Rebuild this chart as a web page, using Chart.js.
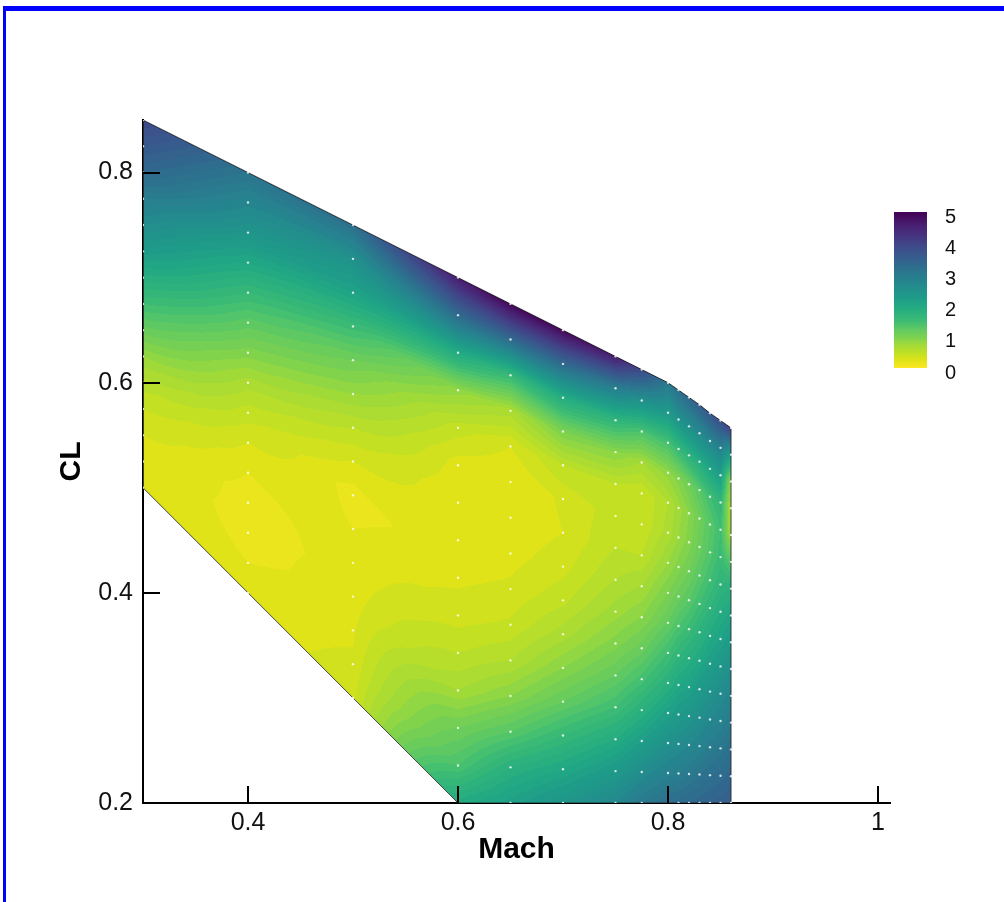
<!DOCTYPE html>
<html><head><meta charset="utf-8">
<script src="https://cdn.jsdelivr.net/npm/chart.js@4.4.1/dist/chart.umd.min.js"></script>
<style>
html,body{margin:0;padding:0;background:#fff;width:1004px;height:902px;overflow:hidden;}
#frame{position:absolute;left:3px;top:6px;width:1100px;height:1000px;border-top:5px solid #0000ff;border-left:3px solid #0000ff;box-sizing:border-box;pointer-events:none;}
canvas{position:absolute;left:0;top:0;}
</style></head><body>
<canvas id="c" width="1004" height="902"></canvas>
<div id="frame"></div>
<script>
// ---- data (structured 15 x 15 grid, columns of Mach, rows evenly spaced between low/high CL) ----
const machCols = [0.3, 0.4, 0.5, 0.6, 0.65, 0.7, 0.75, 0.775, 0.8, 0.81, 0.82, 0.83, 0.84, 0.85, 0.86];
const clLow    = [0.5, 0.4, 0.3, 0.2, 0.2, 0.2, 0.2, 0.2, 0.2, 0.2, 0.2, 0.2, 0.2, 0.2, 0.2];
const clHigh   = [0.85, 0.8, 0.75, 0.7, 0.675, 0.65, 0.625, 0.6125, 0.6, 0.593, 0.586, 0.579, 0.571, 0.564, 0.557];
const rowFrac  = [0, 0.0714, 0.1429, 0.2143, 0.2857, 0.3571, 0.4286, 0.5, 0.5714, 0.6429, 0.7143, 0.7857, 0.8571, 0.9286, 1];
// values per column, bottom (low CL) to top (high CL)
const v_M0300 = [0.22,0.25,0.3,0.4,0.55,0.8,1.15,1.5,1.85,2.25,2.6,2.9,3.3,3.6,3.9];
const v_M0400 = [0.22,0.2,0.15,0.14,0.2,0.3,0.45,0.65,0.95,1.25,1.6,2.0,2.4,2.75,3.1];
const v_M0500 = [0.36,0.32,0.28,0.25,0.22,0.2,0.15,0.3,0.5,0.8,1.1,1.55,2.1,2.5,3.2];
const v_M0600 = [1.95,1.4,1.1,0.7,0.5,0.35,0.28,0.22,0.2,0.25,0.45,0.85,1.95,3.3,4.6];
const v_M0650 = [2.15,1.8,1.3,0.9,0.6,0.42,0.32,0.26,0.22,0.2,0.3,0.65,1.6,3.3,4.95];
const v_M0700 = [2.4,2.0,1.6,1.2,0.9,0.65,0.47,0.36,0.3,0.32,0.5,1.0,1.9,3.3,4.9];
const v_M0750 = [2.7,2.3,1.9,1.5,1.2,0.95,0.75,0.6,0.5,0.45,0.5,0.9,1.7,2.9,4.6];
const v_M0775 = [3.0,2.6,2.2,1.8,1.45,1.15,0.9,0.7,0.5,0.4,0.4,0.7,1.4,2.5,3.9];
const v_M0800 = [3.2,2.85,2.5,2.15,1.8,1.5,1.2,1.0,0.8,0.65,0.6,0.85,1.45,2.3,3.0];
const v_M0810 = [3.25,2.9,2.6,2.3,2.0,1.7,1.4,1.15,0.95,0.8,0.75,0.95,1.6,2.45,3.2];
const v_M0820 = [3.3,3.0,2.7,2.4,2.1,1.85,1.55,1.3,1.1,0.95,0.9,1.1,1.75,2.55,3.35];
const v_M0830 = [3.35,3.1,2.8,2.55,2.3,2.0,1.75,1.5,1.3,1.15,1.1,1.3,1.9,2.65,3.5];
const v_M0840 = [3.4,3.2,2.95,2.7,2.45,2.2,1.95,1.7,1.5,1.35,1.3,1.5,2.05,2.75,3.65];
const v_M0850 = [3.45,3.25,3.05,2.8,2.6,2.35,2.1,1.9,1.7,1.55,1.5,1.65,2.2,2.85,3.8];
const v_M0860 = [3.5,3.35,3.2,3.0,2.8,2.55,2.3,2.05,1.8,1.3,0.7,0.6,0.8,2.2,4.1];
const fieldValues = [v_M0300,v_M0400,v_M0500,v_M0600,v_M0650,v_M0700,v_M0750,v_M0775,v_M0800,v_M0810,v_M0820,v_M0830,v_M0840,v_M0850,v_M0860];

const xTickValues = [0.4, 0.6, 0.8, 1.0];
const xTickLabels = ['0.4', '0.6', '0.8', '1'];
const yTickValues = [0.2, 0.4, 0.6, 0.8];
const yTickLabels = ['0.2', '0.4', '0.6', '0.8'];
const cbarTicks = [0, 1, 2, 3, 4, 5];
const cbarMin = 0, cbarMax = 5;

// viridis lookup (t = 0..1 step 0.05)
const VIR = [[68,1,84],[71,19,101],[72,36,117],[70,51,127],[65,68,135],[59,82,139],[53,95,141],[46,109,142],[41,122,142],[37,133,142],[33,145,140],[30,156,137],[34,168,132],[45,178,125],[63,188,115],[94,201,98],[122,209,81],[160,218,57],[189,223,38],[223,227,24],[253,231,37]];
function viridis(t){
  t = Math.max(0, Math.min(1, t));
  const f = t * (VIR.length - 1); const i = Math.min(VIR.length - 2, Math.floor(f)); const r = f - i;
  const a = VIR[i], b = VIR[i+1];
  return [a[0]+(b[0]-a[0])*r, a[1]+(b[1]-a[1])*r, a[2]+(b[2]-a[2])*r];
}
function colorFor(v){ return viridis(1 - (v - cbarMin) / (cbarMax - cbarMin)); }

// grid node points (sample locations)
const gridPoints = [];
machCols.forEach((m, i) => rowFrac.forEach(f => gridPoints.push({x: m, y: clLow[i] + f * (clHigh[i] - clLow[i])})));
// zone boundary
const boundaryPts = [];
for (let i = 0; i < machCols.length; i++) boundaryPts.push({x: machCols[i], y: clLow[i]});
for (let i = machCols.length - 1; i >= 0; i--) boundaryPts.push({x: machCols[i], y: clHigh[i]});
boundaryPts.push({x: machCols[0], y: clLow[0]});

function sampleField(M, CL){
  const n = machCols.length;
  if (M < machCols[0] || M > machCols[n-1]) return null;
  let i = 0; while (i < n - 2 && M > machCols[i+1]) i++;
  const s = (M - machCols[i]) / (machCols[i+1] - machCols[i]);
  const lo = clLow[i] + (clLow[i+1] - clLow[i]) * s;
  const hi = clHigh[i] + (clHigh[i+1] - clHigh[i]) * s;
  const t = (CL - lo) / (hi - lo);
  if (t < 0 || t > 1) return null;
  let j = 0; while (j < rowFrac.length - 2 && t > rowFrac[j+1]) j++;
  const r = (t - rowFrac[j]) / (rowFrac[j+1] - rowFrac[j]);
  const A = fieldValues[i], B = fieldValues[i+1];
  const a = A[j] + (A[j+1] - A[j]) * r;
  const b = B[j] + (B[j+1] - B[j]) * r;
  return a + (b - a) * s;
}

const fieldPlugin = {
  id: 'field',
  beforeDatasetsDraw(chart){
    const xs = chart.scales.x, ys = chart.scales.y, ctx = chart.ctx;
    const x0 = Math.floor(xs.getPixelForValue(Math.min(...machCols)));
    const x1 = Math.ceil(xs.getPixelForValue(Math.max(...machCols)));
    const y0 = Math.floor(ys.getPixelForValue(Math.max(...clHigh)));
    const y1 = Math.ceil(ys.getPixelForValue(Math.min(...clLow)));
    const w = x1 - x0 + 1, h = y1 - y0 + 1;
    const off = document.createElement('canvas'); off.width = w; off.height = h;
    const octx = off.getContext('2d'); const img = octx.createImageData(w, h);
    const step = 0.1;
    for (let py = 0; py < h; py++){
      const CL = ys.getValueForPixel(y0 + py + 0.5);
      for (let px = 0; px < w; px++){
        const M = xs.getValueForPixel(x0 + px + 0.5);
        const v = sampleField(M, CL);
        if (v === null) continue;
        const q = (Math.floor(v / step) + 0.5) * step;
        const c = colorFor(q);
        const k = (py * w + px) * 4;
        img.data[k] = c[0]; img.data[k+1] = c[1]; img.data[k+2] = c[2]; img.data[k+3] = 255;
      }
    }
    octx.putImageData(img, 0, 0);
    ctx.save();
    ctx.drawImage(off, x0, y0);
    ctx.restore();
  }
};

const tickPlugin = {
  id: 'innerTicks',
  afterDraw(chart){
    const xs = chart.scales.x, ys = chart.scales.y, a = chart.chartArea, ctx = chart.ctx;
    ctx.save(); ctx.strokeStyle = '#000'; ctx.lineWidth = 2;
    xs.ticks.forEach(t => { const p = Math.round(xs.getPixelForValue(t.value)); ctx.beginPath(); ctx.moveTo(p, a.bottom); ctx.lineTo(p, a.bottom - 17); ctx.stroke(); });
    ys.ticks.forEach(t => { const p = Math.round(ys.getPixelForValue(t.value)); ctx.beginPath(); ctx.moveTo(a.left, p); ctx.lineTo(a.left + 17, p); ctx.stroke(); });
    ctx.restore();
  }
};

const colorbarPlugin = {
  id: 'colorbar',
  afterDraw(chart){
    const ctx = chart.ctx;
    const bx = 894, by = 212, bw = 33, bh = 156;
    ctx.save();
    for (let i = 0; i < bh; i++){
      const v = cbarMax - (i + 0.5) / bh * (cbarMax - cbarMin);
      const c = colorFor(v);
      ctx.fillStyle = `rgb(${Math.round(c[0])},${Math.round(c[1])},${Math.round(c[2])})`;
      ctx.fillRect(bx, by + i, bw, 1);
    }
    ctx.fillStyle = '#111';
    ctx.font = '20px "Liberation Sans", Arial, sans-serif';
    ctx.textAlign = 'left'; ctx.textBaseline = 'middle';
    cbarTicks.forEach(v => {
      const y = by + (cbarMax - v) / (cbarMax - cbarMin) * bh + 5;
      ctx.fillText(String(v), bx + 51, y);
    });
    ctx.restore();
  }
};

const ctx = document.getElementById('c').getContext('2d');
new Chart(ctx, {
  type: 'scatter',
  data: { datasets: [
    { label: 'samples', data: gridPoints, pointRadius: 1.2, pointBackgroundColor: 'rgba(255,255,255,0.8)', pointBorderWidth: 0, showLine: false },
    { label: 'boundary', data: boundaryPts, showLine: true, borderColor: 'rgba(35,35,35,0.85)', borderWidth: 1, pointRadius: 0, fill: false, tension: 0 }
  ]},
  options: {
    responsive: false, animation: false, devicePixelRatio: 1,
    layout: { padding: { left: 0, top: 120, right: 114, bottom: 0 } },
    plugins: { legend: { display: false }, tooltip: { enabled: false } },
    scales: {
      x: {
        type: 'linear', min: 0.3, max: 1.0114,
        afterBuildTicks: s => { s.ticks = xTickValues.map(v => ({ value: v })); },
        afterFit: s => { s.height = 99; },
        grid: { display: false, drawTicks: false },
        border: { display: true, color: '#000', width: 2 },
        ticks: { color: '#111', font: { family: '"Liberation Sans", Arial, sans-serif', size: 25 }, padding: 5, maxRotation: 0, autoSkip: false,
                 callback: (v, i) => xTickLabels[i] },
        title: { display: true, text: 'Mach', color: '#000', font: { family: '"Liberation Sans", Arial, sans-serif', size: 30, weight: 'bold' }, padding: { top: 0, bottom: 34 } }
      },
      y: {
        type: 'linear', min: 0.2, max: 0.85,
        afterBuildTicks: s => { s.ticks = yTickValues.map(v => ({ value: v })); },
        afterFit: s => { s.width = 143; },
        grid: { display: false, drawTicks: false },
        border: { display: true, color: '#000', width: 2 },
        ticks: { color: '#111', font: { family: '"Liberation Sans", Arial, sans-serif', size: 25 }, padding: 10, autoSkip: false,
                 callback: (v, i) => yTickLabels[i] },
        title: { display: true, text: 'CL', color: '#000', font: { family: '"Liberation Sans", Arial, sans-serif', size: 30, weight: 'bold' }, padding: { top: 54, bottom: 0 } }
      }
    }
  },
  plugins: [fieldPlugin, tickPlugin, colorbarPlugin]
});
</script></body></html>
